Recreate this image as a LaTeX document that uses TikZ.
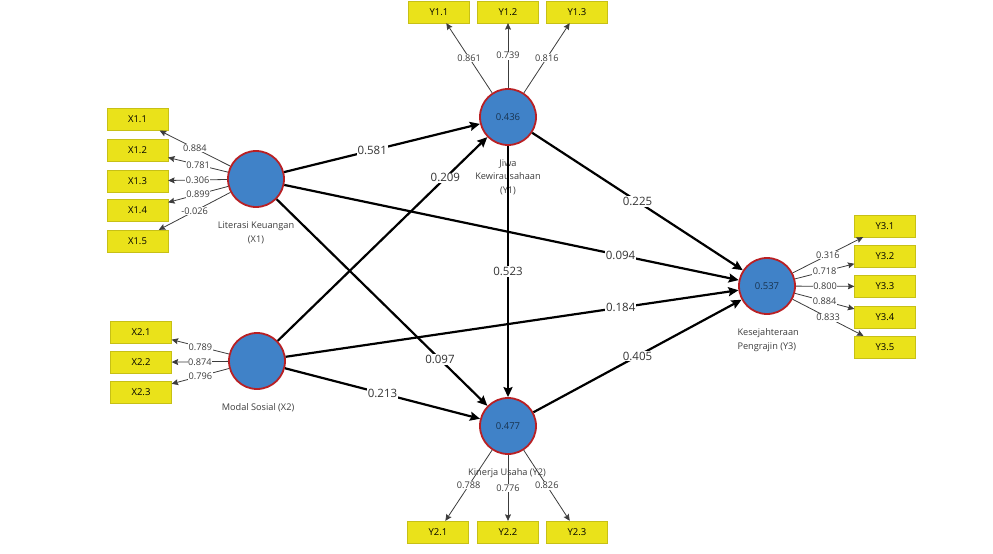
\documentclass[tikz,border=0pt]{standalone}
\usepackage{fontspec}
\setmainfont{Open Sans}
\usetikzlibrary{arrows.meta}
\definecolor{lvblue}{RGB}{64,130,200}
\definecolor{lvred}{RGB}{185,32,36}
\definecolor{mvyellow}{RGB}{234,226,26}
\definecolor{txtgray}{RGB}{60,60,60}

\begin{document}
\begin{tikzpicture}[x=1pt, y=-1pt,
        latent/.style = {circle, draw=lvred, line width=1.8pt, fill=lvblue, minimum size=56pt, inner sep=0pt,
          font=\fontsize{9.5}{10}\selectfont, text=black!60!lvblue},
        manifest/.style = {rectangle, draw=mvyellow!85!black, line width=0.3pt, fill=mvyellow,
          minimum width=61pt, minimum height=22pt, inner sep=0pt, font=\fontsize{9.5}{10}\selectfont},
        lvname/.style = {font=\fontsize{9.2}{13.5}\selectfont, text=txtgray, align=center},
        struct/.style = {line width=2.2pt, -{Stealth[length=10pt, width=9pt, inset=1.5pt]}},
        load/.style = {line width=0.8pt, draw=txtgray, -{Stealth[length=6.5pt, width=6pt, inset=1pt]}},
        coef/.style = {fill=white, inner sep=1pt, font=\fontsize{11.5}{12}\selectfont, text=black!80},
        lcoef/.style = {fill=white, inner sep=0.6pt, font=\fontsize{9.2}{10}\selectfont, text=txtgray},
      ]
      \useasboundingbox (0,0) rectangle (993,554);

      \node[latent] (x1) at (256,179) {};
      \node[latent] (x2) at (257,361) {};
      \node[latent] (y1) at (508,117) {0.436};
      \node[latent] (y2) at (508,426) {0.477};
      \node[latent] (y3) at (767,286) {0.537};

      \node[lvname] (x1n) at (256,233) {Literasi Keuangan\\(X1)};
      \node[lvname] (x2n) at (258,408) {Modal Sosial (X2)};
      \node[lvname] (y1n) at (508,177) {Jiwa\\Kewirausahaan\\(Y1)};
      \node[lvname] (y2n) at (507,473) {Kinerja Usaha (Y2)};
      \node[lvname, align=left, anchor=west] (y3n) at (734,340) {Kesejahteraan\\Pengrajin (Y3)};

      \node[manifest] (x11) at (137.5,119.5) {X1.1};
      \node[manifest] (x12) at (137.5,150) {X1.2};
      \node[manifest] (x13) at (137.5,181) {X1.3};
      \node[manifest] (x14) at (137.5,210.5) {X1.4};
      \node[manifest] (x15) at (137.5,241) {X1.5};
      \node[manifest] (x21) at (141,332) {X2.1};
      \node[manifest] (x22) at (141,362.5) {X2.2};
      \node[manifest] (x23) at (141,392) {X2.3};
      \node[manifest] (y11) at (439,12) {Y1.1};
      \node[manifest] (y12) at (508,12) {Y1.2};
      \node[manifest] (y13) at (577,12) {Y1.3};
      \node[manifest] (y21) at (438,532) {Y2.1};
      \node[manifest] (y22) at (508,532) {Y2.2};
      \node[manifest] (y23) at (577,532) {Y2.3};
      \node[manifest] (y31) at (885,226) {Y3.1};
      \node[manifest] (y32) at (885,256) {Y3.2};
      \node[manifest] (y33) at (885,286.5) {Y3.3};
      \node[manifest] (y34) at (885,317) {Y3.4};
      \node[manifest] (y35) at (885,347) {Y3.5};

      \draw[load] (x1) -- node[lcoef] {0.884} (x11);
      \draw[load] (x1) -- node[lcoef] {0.781} (x12);
      \draw[load] (x1) -- node[lcoef] {0.306} (x13);
      \draw[load] (x1) -- node[lcoef] {0.899} (x14);
      \draw[load] (x1) -- node[lcoef] {-0.026} (x15);
      \draw[load] (x2) -- node[lcoef] {0.789} (x21);
      \draw[load] (x2) -- node[lcoef] {0.874} (x22);
      \draw[load] (x2) -- node[lcoef] {0.796} (x23);
      \draw[load] (y1) -- node[lcoef] {0.861} (y11);
      \draw[load] (y1) -- node[lcoef] {0.739} (y12);
      \draw[load] (y1) -- node[lcoef] {0.816} (y13);
      \draw[load] (y2) -- node[lcoef] {0.788} (y21);
      \draw[load] (y2) -- node[lcoef] {0.776} (y22);
      \draw[load] (y2) -- node[lcoef] {0.826} (y23);
      \draw[load] (y3) -- node[lcoef] {0.316} (y31);
      \draw[load] (y3) -- node[lcoef] {0.718} (y32);
      \draw[load] (y3) -- node[lcoef] {0.800} (y33);
      \draw[load] (y3) -- node[lcoef] {0.884} (y34);
      \draw[load] (y3) -- node[lcoef] {0.833} (y35);

      \draw[struct] (x1) -- node[coef, pos=0.45] {0.581} (y1);
      \draw[struct] (x2) -- node[coef, pos=0.8] {0.209} (y1);
      \draw[struct] (x1) -- node[coef, pos=0.74] {0.094} (y3);
      \draw[struct] (x1) -- node[coef, pos=0.775] {0.097} (y2);
      \draw[struct] (x2) -- node[coef, pos=0.74] {0.184} (y3);
      \draw[struct] (x2) -- node[coef] {0.213} (y2);
      \draw[struct] (y1) -- node[coef] {0.225} (y3);
      \draw[struct] (y1) -- node[coef] {0.523} (y2);
      \draw[struct] (y2) -- node[coef] {0.405} (y3);

    \end{tikzpicture}
\end{document}
